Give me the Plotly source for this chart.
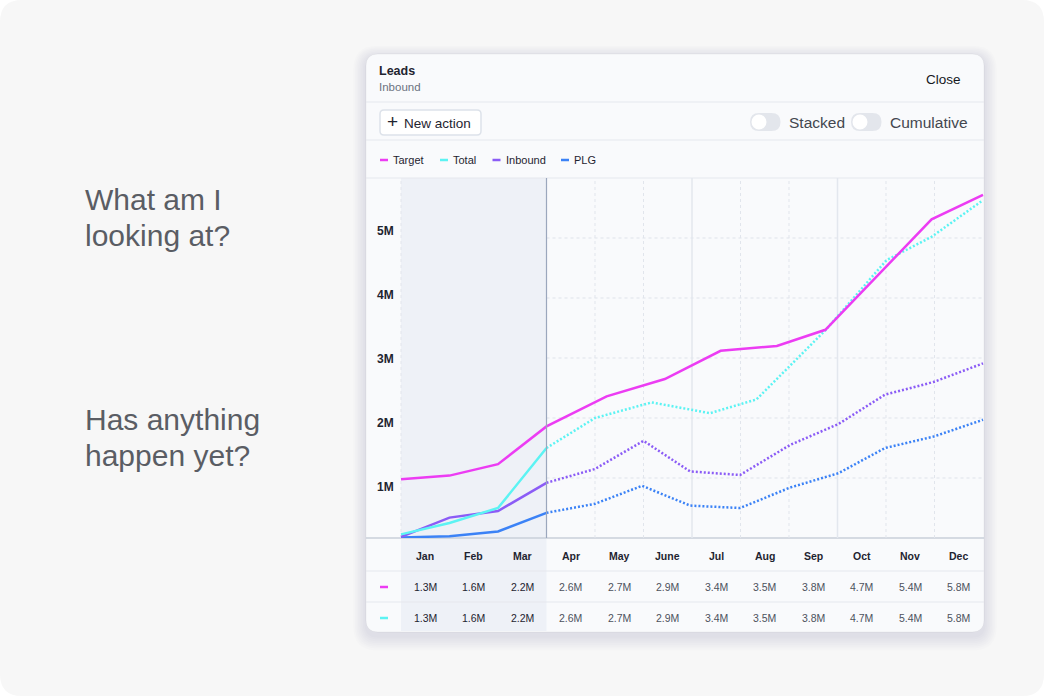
import plotly.graph_objects as go

W, H = 1044, 696

# ---------------- data ----------------
months = ["Jan", "Feb", "Mar", "Apr", "May", "June", "Jul", "Aug", "Sep", "Oct", "Nov", "Dec"]
y_tick_vals = [1, 2, 3, 4, 5]
y_tick_text = ["1M", "2M", "3M", "4M", "5M"]
today = 3  # end of March: actuals before, forecast after

# x in month units (0 = start of Jan, 12 = end of Dec), y in millions
target_x = [0, 1, 2, 3, 4.24, 5.44, 6.59, 7.75, 8.75, 10.94, 12]
target_y = [0.98, 1.04, 1.23, 1.86, 2.36, 2.65, 3.12, 3.20, 3.47, 5.31, 5.72]

total_x = [0, 1, 2, 3, 4, 5.17, 6.37, 7.33, 8.76, 10.01, 10.94, 12]
total_y = [0.06, 0.25, 0.50, 1.50, 2.00, 2.26, 2.08, 2.31, 3.47, 4.63, 5.02, 5.63]

inbound_x = [0, 1, 2, 3, 4, 5, 5.96, 6.99, 8.02, 9.02, 9.98, 10.98, 12]
inbound_y = [0.02, 0.34, 0.45, 0.92, 1.15, 1.62, 1.11, 1.05, 1.55, 1.90, 2.39, 2.60, 2.91]

plg_x = [0, 1, 2, 3, 4, 4.97, 5.96, 6.99, 8.02, 9.02, 9.98, 10.98, 12]
plg_y = [0.01, 0.03, 0.11, 0.42, 0.57, 0.87, 0.54, 0.50, 0.84, 1.08, 1.50, 1.69, 1.97]

target_row = ["1.3M", "1.6M", "2.2M", "2.6M", "2.7M", "2.9M", "3.4M", "3.5M", "3.8M", "4.7M", "5.4M", "5.8M"]
total_row = ["1.3M", "1.6M", "2.2M", "2.6M", "2.7M", "2.9M", "3.4M", "3.5M", "3.8M", "4.7M", "5.4M", "5.8M"]

# ---------------- style ----------------
FONT = "Liberation Sans, Arial, sans-serif"
C_TARGET = "#ec3cf3"
C_TOTAL = "#5cf3f3"
C_INBOUND = "#8b5cf6"
C_PLG = "#3b82f6"
DARK = "#1f2430"
GREY = "#4d525c"
DIV = "#e5e8ee"
CARD = "#f9fafc"
SHADE = "#eef1f7"

CARD_X0, CARD_Y0, CARD_X1, CARD_Y1 = 366, 54, 984, 632
PLOT_TOP, PLOT_BOT = 178, 538
JAN_X, COL_W = 401, 48.5


def px(x):
    return x / W


def py(y):
    return 1 - y / H


def rrect(x0, y0, x1, y1, r):
    return (f"M {px(x0 + r)},{py(y0)} L {px(x1 - r)},{py(y0)} "
            f"Q {px(x1)},{py(y0)} {px(x1)},{py(y0 + r)} L {px(x1)},{py(y1 - r)} "
            f"Q {px(x1)},{py(y1)} {px(x1 - r)},{py(y1)} L {px(x0 + r)},{py(y1)} "
            f"Q {px(x0)},{py(y1)} {px(x0)},{py(y1 - r)} L {px(x0)},{py(y0 + r)} "
            f"Q {px(x0)},{py(y0)} {px(x0 + r)},{py(y0)} Z")


fig = go.Figure()

series = [
    ("PLG", plg_x, plg_y, C_PLG, True),
    ("Inbound", inbound_x, inbound_y, C_INBOUND, True),
    ("Total", total_x, total_y, C_TOTAL, True),
    ("Target", target_x, target_y, C_TARGET, False),
]
for name, xs, ys, col, split in series:
    if split:
        k = xs.index(today)
        fig.add_trace(go.Scatter(x=xs[:k + 1], y=ys[:k + 1], mode="lines", name=name,
                                 line=dict(color=col, width=2.5), showlegend=False,
                                 hoverinfo="skip"))
        fig.add_trace(go.Scatter(x=xs[k:], y=ys[k:], mode="lines", name=name,
                                 line=dict(color=col, width=2.5, dash="2px,2px"),
                                 showlegend=False, hoverinfo="skip"))
    else:
        fig.add_trace(go.Scatter(x=xs, y=ys, mode="lines", name=name,
                                 line=dict(color=col, width=2.5), showlegend=False,
                                 hoverinfo="skip"))

shapes = []
# page background with rounded corners
shapes.append(dict(type="path", path=rrect(0, 0, W, H, 22), xref="paper", yref="paper",
                   fillcolor="#f7f7f7", line=dict(width=0), layer="below"))
# card shadow
for i in range(1, 9):
    shapes.append(dict(type="path",
                       path=rrect(CARD_X0 - i * 1.6, CARD_Y0 - i * 1.4 + 3,
                                  CARD_X1 + i * 1.6, CARD_Y1 + i * 1.8 + 4, 12 + i * 1.5),
                       xref="paper", yref="paper", fillcolor="rgba(20,30,50,0.013)",
                       line=dict(width=0), layer="below"))
# card
shapes.append(dict(type="path", path=rrect(CARD_X0, CARD_Y0, CARD_X1, CARD_Y1, 12),
                   xref="paper", yref="paper", fillcolor=CARD,
                   line=dict(color="rgba(0,0,0,0.04)", width=1), layer="below"))
# shaded actuals region (plot + table)
shapes.append(dict(type="rect", xref="x", yref="paper", x0=0, x1=today,
                   y0=py(CARD_Y1 - 1), y1=py(PLOT_TOP), fillcolor=SHADE,
                   line=dict(width=0), layer="below"))
# dividers
for yy in [102, 140, PLOT_TOP, 571, 602]:
    shapes.append(dict(type="line", xref="paper", yref="paper", x0=px(CARD_X0), x1=px(CARD_X1),
                       y0=py(yy), y1=py(yy), line=dict(color=DIV, width=1.2), layer="below"))
# x baseline
shapes.append(dict(type="line", xref="paper", yref="paper", x0=px(CARD_X0), x1=px(CARD_X1),
                   y0=py(PLOT_BOT), y1=py(PLOT_BOT), line=dict(color="#c9cfda", width=1.5),
                   layer="below"))
# button
shapes.append(dict(type="path", path=rrect(380, 110, 481, 135, 4), xref="paper", yref="paper",
                   fillcolor="#ffffff", line=dict(color="#dde2ea", width=1.5), layer="below"))
# toggles
for tx0 in [750, 851]:
    shapes.append(dict(type="path", path=rrect(tx0, 113, tx0 + 30.5, 131, 9), xref="paper",
                       yref="paper", fillcolor="#e3e6ec", line=dict(width=0), layer="below"))
    shapes.append(dict(type="circle", xref="paper", yref="paper", x0=px(tx0 + 1.5),
                       x1=px(tx0 + 16.5), y0=py(114.5), y1=py(129.5), fillcolor="#ffffff",
                       line=dict(width=0), layer="below"))
# legend dashes
legend_items = [("Target", C_TARGET, 380), ("Total", C_TOTAL, 440),
                ("Inbound", C_INBOUND, 492.5), ("PLG", C_PLG, 561)]
for name, col, lx in legend_items:
    shapes.append(dict(type="line", xref="paper", yref="paper", x0=px(lx), x1=px(lx + 8),
                       y0=py(160), y1=py(160), line=dict(color=col, width=2.5)))
# table row markers
for col, yy in [(C_TARGET, 587), (C_TOTAL, 618)]:
    shapes.append(dict(type="line", xref="paper", yref="paper", x0=px(380), x1=px(388),
                       y0=py(yy), y1=py(yy), line=dict(color=col, width=2.5)))
# grid lines (forecast zone)
x_end = (CARD_X1 - JAN_X) / COL_W
for v in y_tick_vals:
    shapes.append(dict(type="line", xref="x", yref="y", x0=today, x1=x_end, y0=v, y1=v,
                       line=dict(color="#dfe3ea", width=1, dash="3px,3px"), layer="below"))
shapes.append(dict(type="line", xref="x", yref="y", x0=0, x1=0, y0=0, y1=6,
                   line=dict(color="#e2e6ed", width=1, dash="3px,3px"), layer="below"))
for m in range(today + 1, 12):
    if m % 3 == 0:
        shapes.append(dict(type="line", xref="x", yref="y", x0=m, x1=m, y0=0, y1=6,
                           line=dict(color="#e3e7ee", width=1.5), layer="below"))
    else:
        shapes.append(dict(type="line", xref="x", yref="y", x0=m, x1=m, y0=0, y1=6,
                           line=dict(color="#e1e5ec", width=1, dash="3px,3px"), layer="below"))
# today line
shapes.append(dict(type="line", xref="x", yref="y", x0=today, x1=today, y0=0, y1=6,
                   line=dict(color="#9ba7bd", width=1.2)))

ann = []


def text(x, y, s, size, color=DARK, anchor="left", xref="paper"):
    ann.append(dict(x=x if xref != "paper" else px(x), y=py(y), xref=xref, yref="paper",
                    text=s, showarrow=False, xanchor=anchor, yanchor="middle",
                    font=dict(family=FONT, size=size, color=color)))


# left questions
Q = "#5a5d64"
text(83, 199.5, "What am I", 30, Q)
text(83, 235, "looking at?", 30, Q)
text(83, 419.5, "Has anything", 30, Q)
text(83, 455, "happen yet?", 30, Q)

# header
text(377, 71, "<b>Leads</b>", 12.5, DARK)
text(377, 87, "Inbound", 11.5, "#6b7280")
text(963, 80, "Close", 13.5, "#16181d", anchor="right")
text(385, 121.5, "+", 19, DARK)
text(402, 123, "New action", 13.5, DARK)
text(787, 122.5, "Stacked", 15.5, "#43474f")
text(888, 122.5, "Cumulative", 15.5, "#43474f")

# legend labels
for (name, col, lx) in legend_items:
    text(lx + 11, 160, name, 11, DARK)

# table
for i, m in enumerate(months):
    cx = i + 0.5
    text(cx, 556, f"<b>{m}</b>", 10.5, DARK, anchor="center", xref="x")
    c = DARK if i < today else GREY
    text(cx, 587, target_row[i], 10.5, c, anchor="center", xref="x")
    text(cx, 618, total_row[i], 10.5, c, anchor="center", xref="x")

fig.update_layout(
    width=W, height=H, autosize=False,
    margin=dict(l=0, r=0, t=0, b=0),
    paper_bgcolor="#ffffff", plot_bgcolor="rgba(0,0,0,0)",
    showlegend=False,
    shapes=shapes, annotations=ann,
    xaxis=dict(domain=[px(CARD_X0), px(CARD_X1)],
               range=[(CARD_X0 - JAN_X) / COL_W, (CARD_X1 - JAN_X) / COL_W],
               showgrid=False, zeroline=False, showline=False, showticklabels=False,
               fixedrange=True),
    yaxis=dict(domain=[py(PLOT_BOT), py(PLOT_TOP)], range=[0, 6],
               showgrid=False, zeroline=False, showline=False, showticklabels=False,
               fixedrange=True),
    yaxis2=dict(overlaying="y", anchor="x", side="left",
                range=[(551 - PLOT_BOT) / 64, (551 - PLOT_TOP) / 64],
                tickvals=y_tick_vals, ticktext=[f"<b>{t}</b>" for t in y_tick_text],
                ticklabelposition="inside", ticks="", ticklabelstandoff=8,
                showgrid=False, zeroline=False, showline=False,
                tickfont=dict(family=FONT, size=12, color=DARK), fixedrange=True),
)
# keep y2 alive with an empty trace
fig.add_trace(go.Scatter(x=[], y=[], yaxis="y2", showlegend=False, hoverinfo="skip"))

fig.write_html("out.html")
